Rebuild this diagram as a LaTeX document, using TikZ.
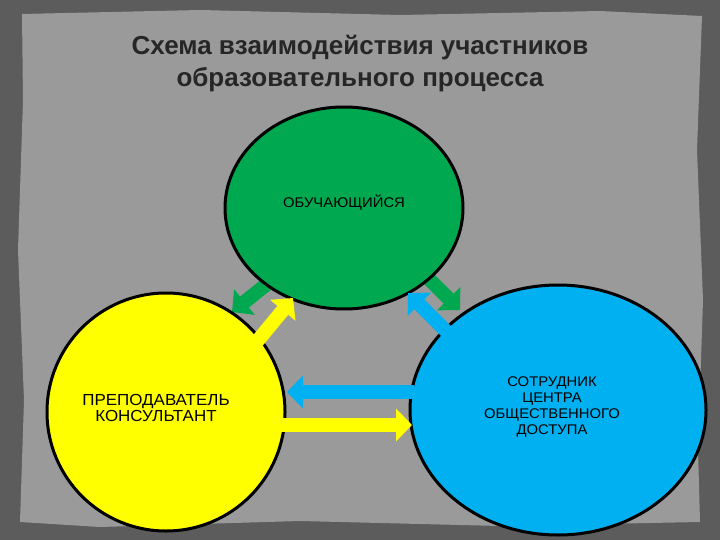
\documentclass[tikz,border=0pt]{standalone}
\usepackage{fontspec}
\setmainfont{Liberation Sans}
\newfontfamily\widefont[FakeStretch=1.06]{Liberation Sans}
\usetikzlibrary{shapes.geometric,arrows.meta}
\definecolor{frame}{HTML}{5C5C5C}
\definecolor{panel}{HTML}{9A9A9A}
\definecolor{gr}{HTML}{00A84F}
\definecolor{ye}{HTML}{FFFF00}
\definecolor{bl}{HTML}{00B0F0}
\tikzset{
  lab/.style={font=\widefont\fontsize{14}{16}\selectfont,align=center},
  circ/.style={ellipse,draw=black,line width=3pt,inner sep=0pt,lab},
  barrow/.style={line width=14pt,-{Triangle[width=32pt,length=16pt]}},
}
\begin{document}
\begin{tikzpicture}[x=1pt,y=-1pt]
\useasboundingbox (0,0) rectangle (720,540);
\fill[frame] (0,0) rectangle (720,540);
\fill[panel] (22,14) -- (200,10) -- (400,15) -- (600,11) -- (702,16) -- (697,150) -- (703,300) -- (698,450) -- (700,522) -- (500,526) -- (300,521) -- (100,527) -- (20,522) -- (24,400) -- (18,250) -- (23,100) -- cycle;
\node[font=\fontsize{26}{32}\bfseries\selectfont,align=center,text=black!85] (title) at (360,64) {Схема взаимодействия участников\\образовательного процесса};
\coordinate (g1s) at (272,280); \coordinate (g1e) at (232,312);
\coordinate (g2s) at (420,270); \coordinate (g2e) at (460,310);
\draw[barrow,gr] (g1s) -- (g1e);
\draw[barrow,gr] (g2s) -- (g2e);
\node[circ,fill=gr,minimum width=238pt,minimum height=202pt] (st) at (344,208) {};
\node[lab] at (344,203) (stl) {ОБУЧАЮЩИЙСЯ};
\node[circ,fill=ye,minimum width=238pt,minimum height=238pt] (pr) at (166,412) {};
\node[lab,font=\widefont\fontsize{16}{16}\selectfont] (prl) at (156,408) {ПРЕПОДАВАТЕЛЬ\\КОНСУЛЬТАНТ};
\node[circ,fill=bl,minimum width=296pt,minimum height=250pt] (so) at (558,410) {};
\node[lab] (sol) at (552,407) {СОТРУДНИК\\ЦЕНТРА\\ОБЩЕСТВЕННОГО\\ДОСТУПА};
\coordinate (y1s) at (250,350); \coordinate (y1e) at (293,298);
\coordinate (b1s) at (452,337); \coordinate (b1e) at (408,293);
\coordinate (b2s) at (414,392); \coordinate (b2e) at (287,392);
\coordinate (y2s) at (280,425); \coordinate (y2e) at (412,425);
\draw[barrow,ye] (y1s) -- (y1e);
\draw[barrow,bl] (b1s) -- (b1e);
\draw[barrow,bl] (b2s) -- (b2e);
\draw[barrow,ye] (y2s) -- (y2e);
\end{tikzpicture}
\end{document}
